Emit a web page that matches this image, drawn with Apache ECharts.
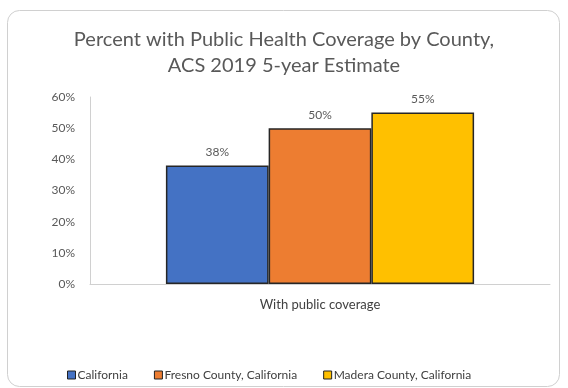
<!DOCTYPE html>
<html>
<head>
<meta charset="utf-8">
<script src="https://cdn.jsdelivr.net/npm/echarts@6/dist/echarts.min.js"></script>
<style>
  html, body { margin: 0; padding: 0; background: #fff; }
  #chart { width: 568px; height: 388px; }
</style>
</head>
<body>
<div id="chart"></div>
<script>
// Share of residents with public health coverage (ACS 2019 5-year)
const categories = ['With public coverage'];
const seriesNames = ['California', 'Fresno County, California', 'Madera County, California'];
const californiaValues = [38];
const fresnoValues = [50];
const maderaValues = [55];
const seriesColors = ['#4472C4', '#ED7D31', '#FFC000'];
const yTicks = [0, 10, 20, 30, 40, 50, 60];

const valueSets = [californiaValues, fresnoValues, maderaValues];
const FONT = 'Lato, "Open Sans", sans-serif';

const chart = echarts.init(document.getElementById('chart'), null, { renderer: 'canvas' });

chart.setOption({
  backgroundColor: '#fff',
  animation: false,
  graphic: [{
    type: 'rect',
    shape: { x: 7.5, y: 10.5, width: 552, height: 376, r: 12 },
    style: { fill: 'none', stroke: '#d0d0d0', lineWidth: 1 },
    z: -1
  }],
  title: {
    text: 'Percent with Public Health Coverage by County,\nACS 2019 5-year Estimate',
    left: 'center',
    top: 22,
    textStyle: {
      fontFamily: FONT,
      fontSize: 20,
      fontWeight: 'normal',
      color: '#595959',
      lineHeight: 26
    }
  },
  legend: {
    data: seriesNames,
    bottom: 2,
    left: 62,
    icon: 'rect',
    itemWidth: 8,
    itemHeight: 8,
    itemGap: 26,
    textStyle: { fontFamily: FONT, fontSize: 12, color: '#404040', padding: [0, 0, 0, -3] },
    itemStyle: { borderColor: '#222', borderWidth: 1 }
  },
  grid: { left: 90, right: 18, top: 97, bottom: 104, containLabel: false },
  xAxis: {
    type: 'category',
    data: categories,
    axisLine: { lineStyle: { color: '#d0d0d0', width: 1 } },
    axisTick: { show: false },
    axisLabel: { fontFamily: FONT, fontSize: 13, color: '#404040', margin: 14 }
  },
  yAxis: {
    type: 'value',
    min: yTicks[0],
    max: yTicks[yTicks.length - 1],
    interval: 10,
    axisLine: { show: true, lineStyle: { color: '#d0d0d0', width: 1 } },
    axisTick: { show: false },
    splitLine: { show: false },
    axisLabel: {
      fontFamily: FONT, fontSize: 12, color: '#595959', margin: 15,
      formatter: v => v + '%'
    }
  },
  series: seriesNames.map((name, i) => ({
    name: name,
    type: 'bar',
    data: valueSets[i],
    barGap: '0%',
    barCategoryGap: '33%',
    itemStyle: { color: seriesColors[i], borderColor: '#262626', borderWidth: 1.5 },
    label: {
      show: true,
      position: 'top',
      distance: 7,
      fontFamily: FONT,
      fontSize: 12,
      color: '#595959',
      formatter: p => p.value + '%'
    }
  }))
});
</script>
</body>
</html>
